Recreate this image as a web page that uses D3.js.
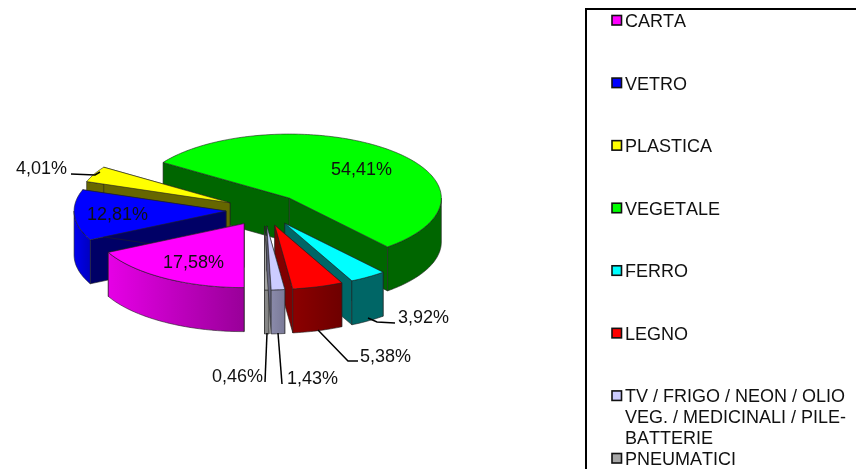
<!DOCTYPE html>
<html>
<head>
<meta charset="utf-8">
<script src="https://cdn.jsdelivr.net/npm/d3@7"></script>
<style>
  html, body { margin: 0; padding: 0; background: #fff; }
  svg { display: block; filter: blur(0.35px); }
  text { font-family: "Liberation Sans", Arial, sans-serif; font-size: 18px; fill: #111; font-kerning: none; }
</style>
</head>
<body>
<svg id="chart" width="856" height="469"></svg>
<script>
// values
var categories = ['CARTA', 'VETRO', 'PLASTICA', 'VEGETALE', 'FERRO', 'LEGNO', 'TV / FRIGO / NEON / OLIO VEG. / MEDICINALI / PILE-BATTERIE', 'PNEUMATICI'];
var shares = [17.58, 12.81, 4.01, 54.41, 3.92, 5.38, 1.43, 0.46];
var shareLabels = ['17,58%', '12,81%', '4,01%', '54,41%', '3,92%', '5,38%', '1,43%', '0,46%'];

var topColors = ['#ff00ff', '#0000ff', '#ffff00', '#00ff00', '#00ffff', '#ff0000', '#ccccff', '#a6a6a6'];
var wallColors = [['#e600e6', '#990099'], ['#0000f0', '#0000c0'], ['#808000', '#666600'], ['#006600', '#006600'],
  ['#006666', '#006666'], ['#8c0000', '#6e0000'], ['#8a8aaa', '#7a7a98'], ['#8c8c8c', '#808080']];
var sideColors = ['#990099', '#000066', '#666600', '#006600', '#006666', '#800000', '#666680', '#808080'];

// label anchors and leader lines, same order as the categories
var labelPos = [[163, 268], [87, 220], [16, 174], [331, 175], [398, 323], [360, 362], [287, 384], [212, 382]];
var leaders = [null, null, [[71, 174], [95, 175], [100, 172]], null,
  [[395, 323], [377, 322], [368, 318]], [[358, 361], [348, 361], [318, 330]],
  [[282, 384], [278, 333]], [[265, 382], [267, 333]]];

// draw order, back to front
var drawOrder = [3, 2, 1, 4, 5, 7, 6, 0];

var cx = 264, cy = 210, rx = 152, ry = 64, depth = 44, explode = 0.25;

var svg = d3.select('#chart');
var defs = svg.append('defs');

var pie = d3.pie().sort(null).startAngle(Math.PI).endAngle(3 * Math.PI);
var slices = pie(shares);

var x = d3.scaleLinear().domain([-1, 1]).range([-rx, rx]);
var y = d3.scaleLinear().domain([-1, 1]).range([ry, -ry]);
var line = d3.line();

slices.forEach(function(s, i) {
  var mid = (s.startAngle + s.endAngle) / 2;
  s.ox = cx + explode * x(Math.sin(mid));
  s.oy = cy + explode * y(Math.cos(mid));
  s.index = i;
});

function pt(s, a, dy) {
  return [s.ox + x(Math.sin(a)), s.oy + y(Math.cos(a)) + (dy || 0)];
}

function arcPts(s, a0, a1, dy) {
  var n = Math.max(2, Math.ceil((a1 - a0) / 0.02));
  return d3.range(n + 1).map(function(k) {
    return pt(s, a0 + (a1 - a0) * k / n, dy);
  });
}

// part of an angle span that faces the viewer (cos < 0)
function frontPart(s) {
  var spans = [[Math.PI / 2, 3 * Math.PI / 2], [5 * Math.PI / 2, 7 * Math.PI / 2]];
  for (var k = 0; k < spans.length; k++) {
    var a0 = Math.max(s.startAngle, spans[k][0]), a1 = Math.min(s.endAngle, spans[k][1]);
    if (a1 > a0) return [a0, a1];
  }
  return null;
}

function radialFace(s, a) {
  var o = [s.ox, s.oy], e = pt(s, a);
  return line([o, e, [e[0], e[1] + depth], [o[0], o[1] + depth]]) + 'Z';
}

drawOrder.forEach(function(i) {
  var s = slices[i];
  var g = svg.append('g').attr('class', 'slice')
    .attr('stroke', '#222').attr('stroke-width', 0.6).attr('stroke-linejoin', 'round');

  g.append('path').attr('d', radialFace(s, s.startAngle)).attr('fill', sideColors[i]);
  g.append('path').attr('d', radialFace(s, s.endAngle)).attr('fill', sideColors[i]);

  var front = frontPart(s);
  if (front) {
    var gradId = 'wall' + i;
    var grad = defs.append('linearGradient').attr('id', gradId).attr('gradientUnits', 'userSpaceOnUse')
      .attr('x1', pt(s, front[0])[0]).attr('x2', pt(s, front[1])[0]).attr('y1', 0).attr('y2', 0);
    // left end of the wall gets the first colour
    var leftFirst = pt(s, front[0])[0] < pt(s, front[1])[0];
    grad.append('stop').attr('offset', 0).attr('stop-color', wallColors[i][leftFirst ? 0 : 1]);
    grad.append('stop').attr('offset', 1).attr('stop-color', wallColors[i][leftFirst ? 1 : 0]);
    var upper = arcPts(s, front[0], front[1]);
    var lower = arcPts(s, front[0], front[1], depth).reverse();
    g.append('path').attr('d', line(upper.concat(lower)) + 'Z').attr('fill', 'url(#' + gradId + ')');
  }

  var top = [[s.ox, s.oy]].concat(arcPts(s, s.startAngle, s.endAngle));
  g.append('path').attr('d', line(top) + 'Z').attr('fill', topColors[i]);
});

// leader lines and share labels
svg.append('g').selectAll('path').data(leaders.filter(function(d) { return d; })).enter().append('path')
  .attr('d', function(d) { return line(d); })
  .attr('fill', 'none').attr('stroke', '#000').attr('stroke-width', 1.5);

svg.append('g').selectAll('text').data(shareLabels).enter().append('text')
  .attr('x', function(d, i) { return labelPos[i][0]; })
  .attr('y', function(d, i) { return labelPos[i][1]; })
  .text(function(d) { return d; });

// legend
svg.append('path').attr('d', 'M586,469V9H856').attr('fill', 'none').attr('stroke', '#000').attr('stroke-width', 2);

var legendY = d3.scaleLinear().domain([0, 7]).range([20, 458]);
var legendLines = categories.map(function(c) {
  return c.indexOf('TV') === 0 ? ['TV / FRIGO / NEON / OLIO', 'VEG. / MEDICINALI / PILE-', 'BATTERIE'] : [c];
});

var legend = svg.selectAll('.legend').data(categories).enter().append('g')
  .attr('class', 'legend')
  .attr('transform', function(d, i) { return 'translate(0,' + legendY(i) + ')'; });

legend.append('rect')
  .attr('x', 612).attr('y', -4.5).attr('width', 9.5).attr('height', 9.5)
  .attr('fill', function(d, i) { return topColors[i]; })
  .attr('stroke', '#111').attr('stroke-width', 1.6);

legend.append('text')
  .attr('y', 7)
  .selectAll('tspan').data(function(d, i) { return legendLines[i]; }).enter().append('tspan')
  .attr('x', 625)
  .attr('dy', function(d, k) { return k ? 20.7 : 0; })
  .text(function(d) { return d; });
</script>
</body>
</html>
